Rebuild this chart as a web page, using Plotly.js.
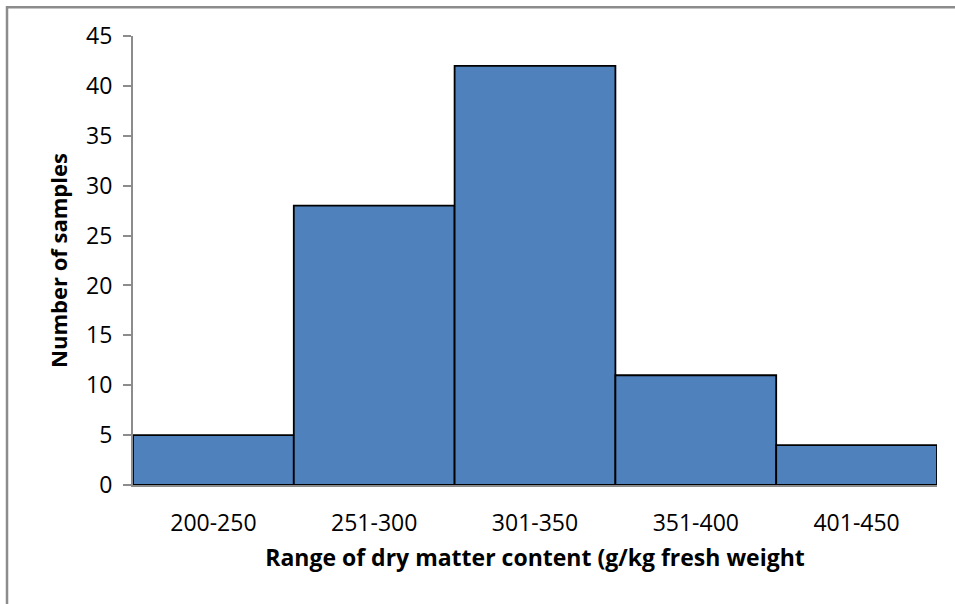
<!DOCTYPE html>
<html>
<head>
<meta charset="utf-8">
<script src="https://cdn.plot.ly/plotly-3.0.1.min.js"></script>
<style>html,body{margin:0;padding:0;background:#fff;}#chart{width:955px;height:604px;}</style>
</head>
<body>
<div id="chart"></div>
<script>
const categories = ["200-250", "251-300", "301-350", "351-400", "401-450"];
const counts = [5, 28, 42, 11, 4];
const yTickValues = [0, 5, 10, 15, 20, 25, 30, 35, 40, 45];

const FONT = "Open Sans, Liberation Sans, sans-serif";

const trace = {
  type: "bar",
  x: categories,
  y: counts,
  marker: { color: "#4F81BD", line: { color: "#000000", width: 1.8 } },
  hoverinfo: "x+y"
};

const layout = {
  width: 955,
  height: 604,
  margin: { l: 133, r: 18, t: 36, b: 119 },
  paper_bgcolor: "#ffffff",
  plot_bgcolor: "#ffffff",
  bargap: 0,
  showlegend: false,
  font: { family: FONT, color: "#000000", size: 22 },
  xaxis: {
    type: "category",
    showline: true,
    linecolor: "#8c8c8c",
    linewidth: 2,
    ticks: "",
    tickfont: { family: FONT, size: 23, color: "#000" },
    ticklabelstandoff: 16,
    showgrid: false,
    zeroline: false,
    title: { text: "Range of dry matter content (g/kg fresh weight", font: { family: FONT, size: 23, color: "#000", weight: "bold" }, standoff: 13 }
  },
  yaxis: {
    range: [0, 45],
    tickvals: yTickValues,
    showline: true,
    linecolor: "#8c8c8c",
    linewidth: 2,
    ticks: "outside",
    ticklen: 8,
    tickwidth: 2,
    tickcolor: "#8c8c8c",
    tickfont: { family: FONT, size: 23, color: "#000" },
    ticklabelstandoff: 6,
    showgrid: false,
    zeroline: false,
    title: { text: "Number of samples", font: { family: FONT, size: 22, color: "#000", weight: "bold" }, standoff: 12 }
  },
  shapes: [
    {
      type: "rect", xref: "paper", yref: "paper",
      x0: -0.1567, x1: 1.2, y0: -0.3, y1: 1.064,
      line: { color: "#8c8c8c", width: 2.5 }, fillcolor: "rgba(0,0,0,0)", layer: "below"
    }
  ]
};

Plotly.newPlot("chart", [trace], layout, { displayModeBar: false, staticPlot: true });
</script>
</body>
</html>
